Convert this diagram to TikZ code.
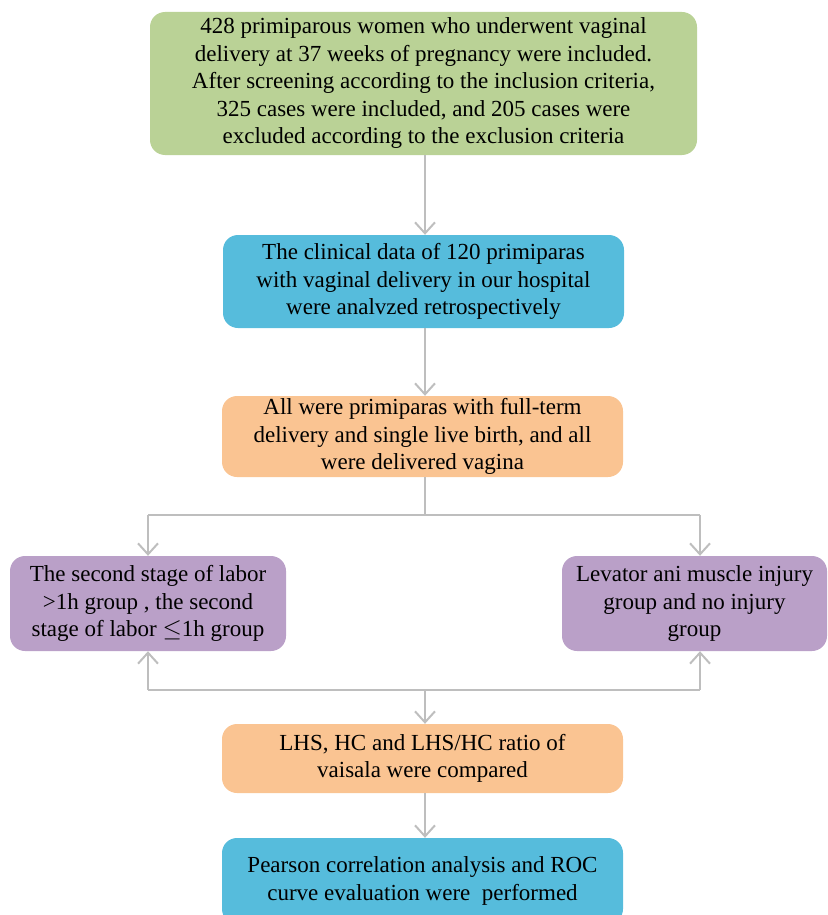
\documentclass[tikz,border=0pt]{standalone}
\usepackage{fontspec}
\setmainfont{Liberation Serif}
\usetikzlibrary{arrows.meta}
\definecolor{cgreen}{RGB}{186,210,150}
\definecolor{cblue}{RGB}{86,188,220}
\definecolor{corange}{RGB}{250,196,146}
\definecolor{cpurple}{RGB}{186,160,200}
\definecolor{cline}{RGB}{190,190,190}
\tikzset{
  box/.style={rounded corners=15pt, inner sep=0pt, align=center,
    font=\fontsize{23}{27.5}\selectfont, text=black},
  conn/.style={draw=cline, line width=2pt},
  arr/.style={conn, -{Straight Barb[length=11pt,width=20pt,line width=2pt]}}
}
\begin{document}
\begin{tikzpicture}[x=1pt,y=1pt]
\useasboundingbox (0,0) rectangle (827,-915);
\clip (0,0) rectangle (827,-915);
\node[box, fill=cgreen, minimum width=547pt, minimum height=143pt] (b1) at (423.5,-83.5)
  {428 primiparous women who underwent vaginal\\delivery at 37 weeks of pregnancy were included.\\After screening according to the inclusion criteria,\\325 cases were included, and 205 cases were\\excluded according to the exclusion criteria};
\node[box, fill=cblue, minimum width=401pt, minimum height=93pt] (b2) at (423.5,-281.5)
  {The clinical data of 120 primiparas\\with vaginal delivery in our hospital\\were analvzed retrospectively};
\node[box, fill=corange, minimum width=401pt, minimum height=81pt] (b3) at (422.5,-436.5)
  {All were primiparas with full-term\\delivery and single live birth, and all\\were delivered vagina};
\node[box, fill=cpurple, minimum width=276pt, minimum height=95pt] (b4) at (148,-603.5)
  {The second stage of labor\\>1h group , the second\\stage of labor $\leq$1h group};
\node[box, fill=cpurple, minimum width=265pt, minimum height=95pt] (b5) at (694.5,-603.5)
  {Levator ani muscle injury\\group and no injury\\group};
\node[box, fill=corange, minimum width=401pt, minimum height=69pt] (b6) at (422.5,-758.5)
  {LHS, HC and LHS/HC ratio of\\vaisala were compared};
\node[box, fill=cblue, minimum width=401pt, minimum height=86pt] (b7) at (422.5,-881)
  {Pearson correlation analysis and ROC\\curve evaluation were\ \ performed};
\coordinate (s1) at (425,-515);
\coordinate (sl) at (148,-515);
\coordinate (sr) at (700,-515);
\coordinate (m1) at (425,-690);
\coordinate (ml) at (148,-690);
\coordinate (mr) at (700,-690);
\draw[arr] (b1.south -| s1) -- (b2.north -| s1);
\draw[arr] (b2.south -| s1) -- (b3.north -| s1);
\draw[conn] (b3.south -| s1) -- (s1);
\draw[conn] (sl) -- (sr);
\draw[arr] (sl) -- (b4.north -| sl);
\draw[arr] (sr) -- (b5.north -| sr);
\draw[conn] (ml) -- (mr);
\draw[arr] (ml) -- (b4.south -| ml);
\draw[arr] (mr) -- (b5.south -| mr);
\draw[arr] (m1) -- (b6.north -| m1);
\draw[arr] (b6.south -| m1) -- (b7.north -| m1);
\end{tikzpicture}
\end{document}
